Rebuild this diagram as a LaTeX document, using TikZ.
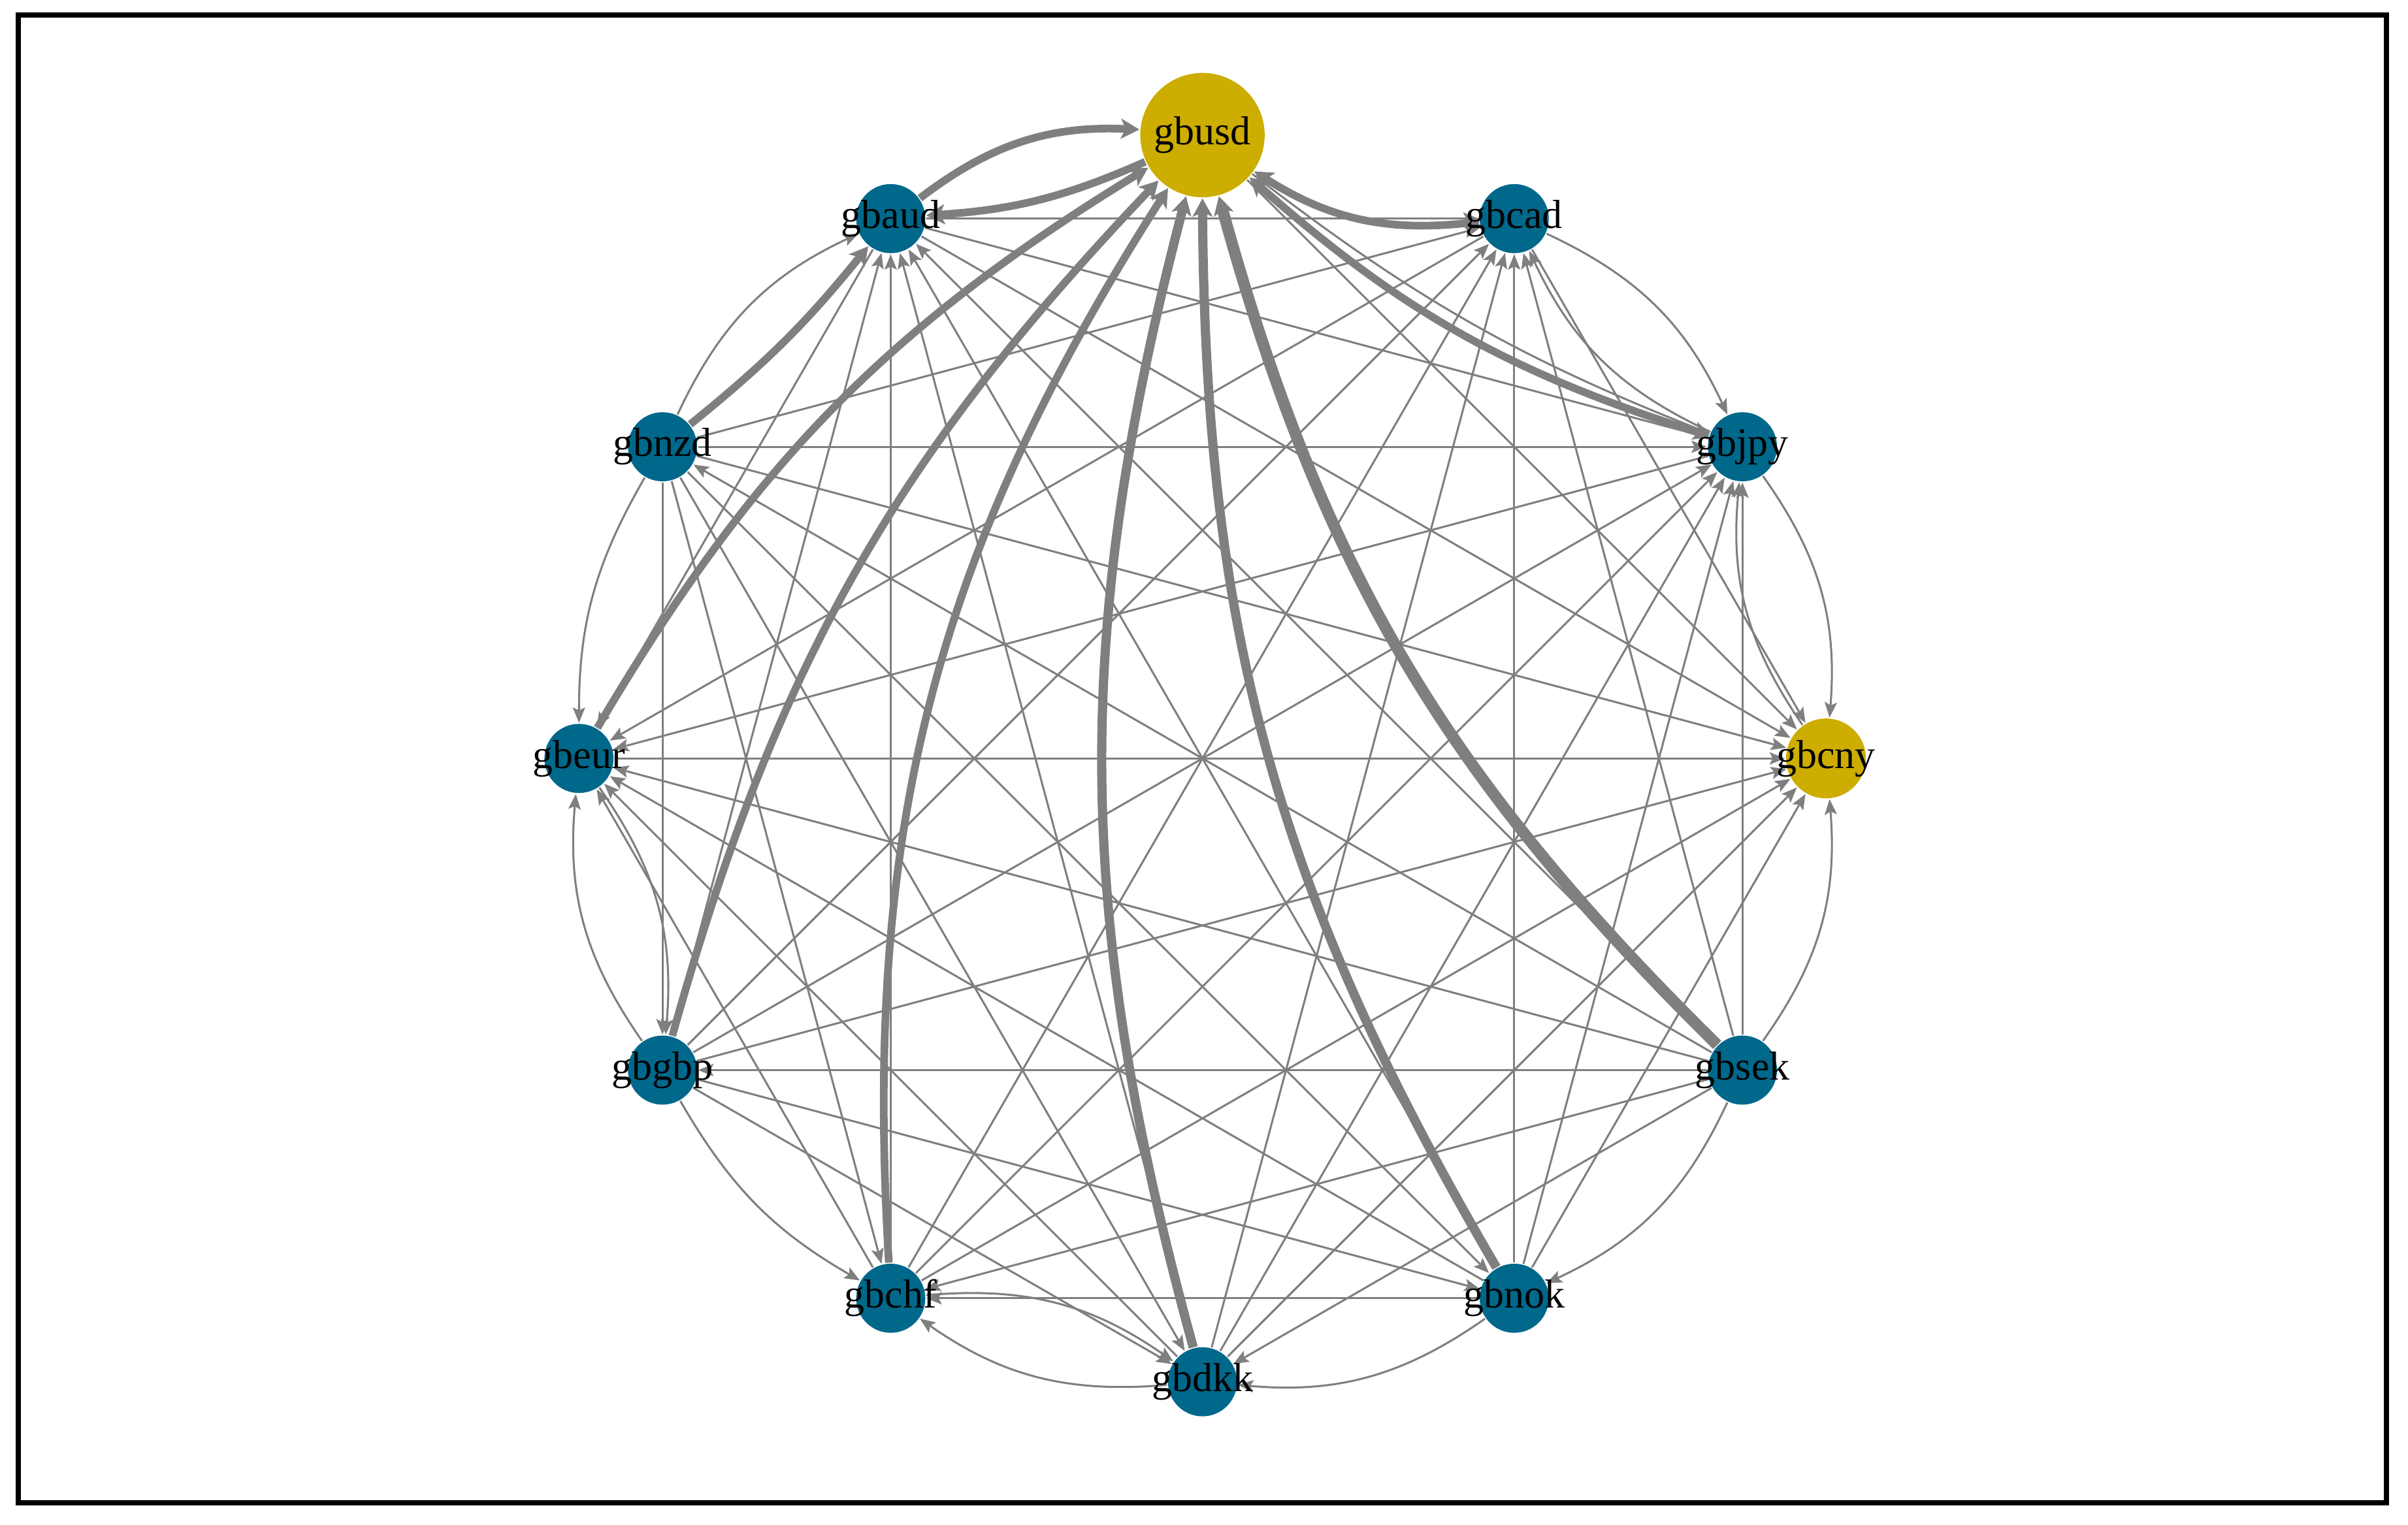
\documentclass[tikz,border=0pt]{standalone}
\usepackage{fontspec}
\setmainfont{Liberation Serif}
\usepackage{xcolor}
\usetikzlibrary{arrows.meta, backgrounds}
\definecolor{gbgold}{RGB}{205,173,0}
\definecolor{gbblue}{RGB}{0,104,139}
\definecolor{gbgray}{RGB}{127,127,127}

\begin{document}
\begin{tikzpicture}[
  cur/.style={circle,fill=gbblue,minimum size=0.45cm,inner sep=0pt},
  hub/.style={cur,fill=gbgold,minimum size=0.81cm},
  lab/.style={inner sep=0pt,font=\fontsize{7.5}{8}\selectfont},
  link/.style={draw=gbgray,line width=0.013cm,-{Stealth[length=0.1cm,width=0.08cm,inset=0.02cm]}},
  heavy/.style={link,line width=0.05cm,-{Stealth[length=0.12cm,width=0.13cm,inset=0.03cm]},bend left=15}]
  \useasboundingbox (-7.83,-4.99) rectangle (7.85,4.94);
  \node[hub,label={[lab]center:gbusd}] (usd) at (90:4.06) {};
  \node[cur,label={[lab]center:gbcad}] (cad) at (60:4.06) {};
  \node[cur,label={[lab]center:gbjpy}] (jpy) at (30:4.06) {};
  \node[cur,fill=gbgold,minimum size=0.52cm,label={[lab]center:gbcny}] (cny) at (0:4.06) {};
  \node[cur,label={[lab]center:gbsek}] (sek) at (-30:4.06) {};
  \node[cur,label={[lab]center:gbnok}] (nok) at (-60:4.06) {};
  \node[cur,label={[lab]center:gbdkk}] (dkk) at (-90:4.06) {};
  \node[cur,label={[lab]center:gbchf}] (chf) at (-120:4.06) {};
  \node[cur,label={[lab]center:gbgbp}] (gbp) at (-150:4.06) {};
  \node[cur,label={[lab]center:gbeur}] (eur) at (180:4.06) {};
  \node[cur,label={[lab]center:gbnzd}] (nzd) at (150:4.06) {};
  \node[cur,label={[lab]center:gbaud}] (aud) at (120:4.06) {};
  \begin{scope}[on background layer]
  \draw[heavy,bend left=20] (aud) to (usd);
  \draw[heavy,bend left=10] (usd) to (aud);
  \draw[heavy,bend left=20] (cad) to (usd);
  \draw[heavy,bend left=12] (jpy) to (usd);
  \draw[heavy,line width=0.075cm] (sek) to (usd);
  \draw[heavy,line width=0.06cm] (nok) to (usd);
  \draw[heavy,line width=0.06cm] (dkk) to (usd);
  \draw[heavy,bend left=18] (chf) to (usd);
  \draw[heavy,bend left=14] (gbp) to (usd);
  \draw[heavy,bend left=14] (eur) to (usd);
  \draw[heavy,bend right=6] (nzd) to (aud);
  \draw[link] (sek) -- (nzd);
  \draw[link] (sek) -- (gbp);
  \draw[link,bend left=20] (sek) to (nok);
  \draw[link] (sek) -- (chf);
  \draw[link] (sek) -- (dkk);
  \draw[link] (sek) -- (aud);
  \draw[link] (sek) -- (cad);
  \draw[link] (sek) -- (jpy);
  \draw[link] (sek) -- (eur);
  \draw[link,bend right=20] (sek) to (cny);
  \draw[link] (nzd) -- (gbp);
  \draw[link] (nzd) -- (nok);
  \draw[link] (nzd) -- (chf);
  \draw[link] (nzd) -- (dkk);
  \draw[link,bend left=20] (nzd) to (aud);
  \draw[link] (nzd) -- (cad);
  \draw[link] (nzd) -- (jpy);
  \draw[link,bend right=15] (nzd) to (eur);
  \draw[link] (nzd) -- (cny);
  \draw[link] (gbp) -- (nok);
  \draw[link,bend right=15] (gbp) to (chf);
  \draw[link] (gbp) -- (dkk);
  \draw[link] (gbp) -- (aud);
  \draw[link] (gbp) -- (cad);
  \draw[link] (gbp) -- (jpy);
  \draw[link,bend left=20] (gbp) to (eur);
  \draw[link] (gbp) -- (cny);
  \draw[link] (nok) -- (chf);
  \draw[link,bend left=20] (nok) to (dkk);
  \draw[link] (nok) -- (aud);
  \draw[link] (nok) -- (cad);
  \draw[link] (nok) -- (jpy);
  \draw[link] (nok) -- (eur);
  \draw[link] (nok) -- (cny);
  \draw[link,bend left=20] (chf) to (dkk);
  \draw[link] (chf) -- (aud);
  \draw[link] (chf) -- (cad);
  \draw[link] (chf) -- (jpy);
  \draw[link] (chf) -- (eur);
  \draw[link] (chf) -- (cny);
  \draw[link] (dkk) -- (aud);
  \draw[link] (dkk) -- (cad);
  \draw[link] (dkk) -- (jpy);
  \draw[link] (dkk) -- (eur);
  \draw[link] (dkk) -- (cny);
  \draw[link] (aud) -- (cad);
  \draw[link] (aud) -- (jpy);
  \draw[link] (aud) -- (eur);
  \draw[link] (aud) -- (cny);
  \draw[link,bend left=20] (cad) to (jpy);
  \draw[link] (cad) -- (eur);
  \draw[link] (cad) -- (cny);
  \draw[link] (jpy) -- (eur);
  \draw[link,bend left=20] (jpy) to (cny);
  \draw[link] (eur) -- (cny);
  \draw[link,bend left=20] (dkk) to (chf);
  \draw[link,bend left=20] (eur) to (gbp);
  \draw[link,bend left=20] (jpy) to (cad);
  \draw[link,bend left=20] (cny) to (jpy);
  \draw[link] (usd) -- (cny);
  \draw[link,bend right=8] (usd) to (jpy);
  \end{scope}
  \draw[line width=0.034cm] (-7.71,-4.85) rectangle (7.71,4.84);
\end{tikzpicture}
\end{document}
